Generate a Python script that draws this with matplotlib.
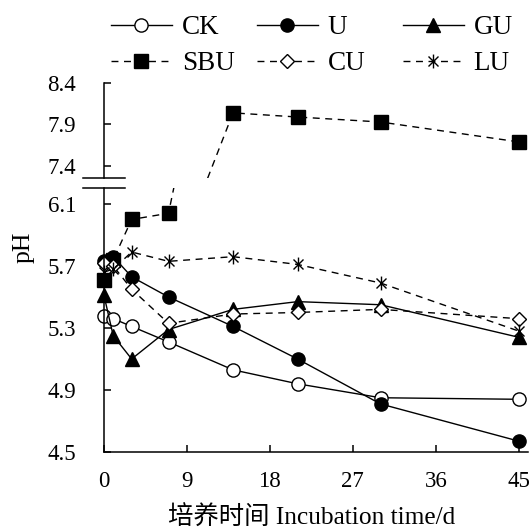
import matplotlib
matplotlib.use('Agg')
import matplotlib.pyplot as plt
from matplotlib.path import Path
from matplotlib.lines import Line2D
from matplotlib.transforms import Bbox, TransformedBbox

# ---------------- data ----------------
days = [0, 1, 3, 7, 14, 21, 30, 45]
CK = [5.38, 5.36, 5.31, 5.21, 5.03, 4.94, 4.85, 4.84]
U = [5.73, 5.76, 5.63, 5.50, 5.31, 5.10, 4.81, 4.57]
GU = [5.51, 5.25, 5.10, 5.29, 5.42, 5.47, 5.45, 5.24]
SBU = [5.61, 5.74, 6.00, 6.04, 8.04, 7.99, 7.93, 7.69]
CU = [5.72, 5.70, 5.55, 5.33, 5.39, 5.40, 5.42, 5.36]
LU = [5.66, 5.68, 5.79, 5.73, 5.76, 5.71, 5.59, 5.28]
series_names = ["CK", "U", "GU", "SBU", "CU", "LU"]
x_ticks = [0, 9, 18, 27, 36, 45]
y_ticks_low = [4.5, 4.9, 5.3, 5.7, 6.1]
y_ticks_high = [7.4, 7.9, 8.4]

plt.rcParams['font.family'] = ['Liberation Serif', 'Noto Sans CJK SC']

W, H = 529, 532
fig = plt.figure(figsize=(W / 100, H / 100), dpi=100)


def rect(l, t, r, b):
    return [l / W, 1 - b / H, (r - l) / W, (b - t) / H]


axl = fig.add_axes(rect(104, 188, 528, 452))
axu = fig.add_axes(rect(104, 83, 528, 178))

star = Path([(0, -1), (0, 1), (-0.72, -0.72), (0.72, 0.72), (-0.72, 0.72), (0.72, -0.72)],
            [Path.MOVETO, Path.LINETO, Path.MOVETO, Path.LINETO, Path.MOVETO, Path.LINETO])

solid = '-'
dashed = (0, (5, 4))
styles = {
    "CK": dict(ls=solid, marker='o', ms=9.5, mfc='white'),
    "U": dict(ls=solid, marker='o', ms=9.5, mfc='black'),
    "GU": dict(ls=solid, marker='^', ms=9.5, mfc='black'),
    "SBU": dict(ls=dashed, marker='s', ms=10, mfc='black'),
    "CU": dict(ls=dashed, marker='D', ms=7.5, mfc='white'),
    "LU": dict(ls=dashed, marker=star, ms=10, mfc='black'),
}
data = {"CK": CK, "U": U, "GU": GU, "SBU": SBU, "CU": CU, "LU": LU}

handles = {}
for ax, clipbb in ((axl, [[-0.1, -0.1], [1.1, 1.0]]), (axu, [[-0.1, 0.0], [1.1, 1.1]])):
    for name in series_names:
        st = styles[name]
        ln, = ax.plot(days, data[name], color='black', lw=1.0, ls=st['ls'],
                      marker=st['marker'], ms=st['ms'], mfc=st['mfc'],
                      mec='black', mew=1.0, label=name)
        ln.set_clip_box(TransformedBbox(Bbox(clipbb), ax.transAxes))
        if ax is axl:
            handles[name] = ln

for ax in (axl, axu):
    ax.set_xlim(0, 46)
    ax.spines['top'].set_visible(False)
    ax.spines['right'].set_visible(False)
    ax.spines['left'].set_linewidth(1.1)
    ax.spines['bottom'].set_linewidth(1.1)
    ax.tick_params(axis='y', direction='in', length=5, width=1.1, pad=20, labelsize=16.5)
    ax.tick_params(axis='x', direction='in', length=5, width=1.1, pad=14, labelsize=16.5)

axl.set_ylim(4.5, 6.203)
axl.set_yticks(y_ticks_low)
axl.set_yticklabels([f"{v:.1f}" for v in y_ticks_low])
axl.set_xticks(x_ticks)
axl.set_xticklabels([str(v) for v in x_ticks])

axu.set_ylim(7.255, 8.4)
axu.set_yticks(y_ticks_high)
axu.set_yticklabels([f"{v:.1f}" for v in y_ticks_high])
axu.spines['bottom'].set_visible(False)
axu.set_xticks([])

# break marks
for yb in (178.3, 188.3):
    fig.add_artist(Line2D([83 / W, 125 / W], [1 - yb / H, 1 - yb / H],
                          transform=fig.transFigure, color='black', lw=1.1))

fig.text(312 / W, 1 - 518 / H, "培养时间 Incubation time/d", ha='center', va='center',
         fontsize=18.3)
fig.text(24 / W, 1 - 247 / H, "pH", ha='center', va='center', rotation=90, fontsize=18.5)

cols = [["CK", "SBU"], ["U", "CU"], ["GU", "LU"]]
col_x = [111, 257, 403]
for names, cx in zip(cols, col_x):
    fig.legend(handles=[handles[n] for n in names], labels=names, loc='upper left',
               bbox_to_anchor=(cx / W, 1 - 15 / H), frameon=False, borderpad=0,
               borderaxespad=0, handlelength=2.25, handletextpad=0.36,
               labelspacing=0.42, fontsize=19.5)

fig.savefig("out.png", dpi=100)
